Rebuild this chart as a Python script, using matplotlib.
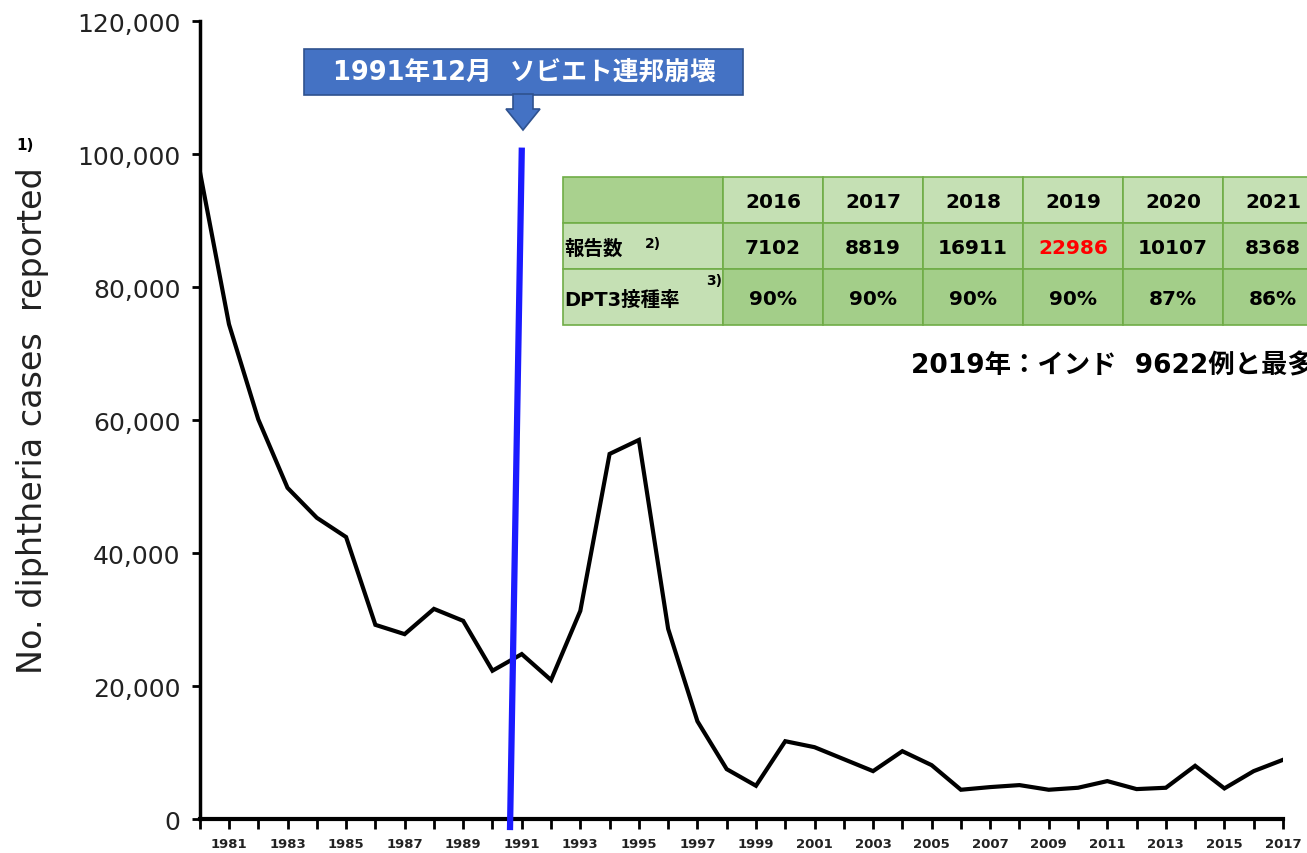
import matplotlib.pyplot as plt
from matplotlib.patches import Rectangle, Polygon

# reported diphtheria cases
years = list(range(1980, 2018))
cases = [97500, 74400, 60100, 49800, 45300, 42400, 29200, 27800, 31600, 29800,
         22300, 24800, 20900, 31300, 54900, 57000, 28600, 14700, 7500, 5000,
         11700, 10800, 9000, 7200, 10200, 8100, 4400, 4800, 5100, 4400,
         4700, 5700, 4500, 4700, 8000, 4600, 7200, 8900]

# table
tab_years = ['2016', '2017', '2018', '2019', '2020', '2021']
tab_reports = ['7102', '8819', '16911', '22986', '10107', '8368']
tab_dpt3 = ['90%', '90%', '90%', '90%', '87%', '86%']

jp = ['DejaVu Sans', 'Noto Sans CJK JP']

fig = plt.figure(figsize=(13.07, 8.54), dpi=100)
ax = fig.add_axes([0.1528, 0.0398, 0.9816 - 0.1528, 0.9742 - 0.0398])

ax.plot(years, cases, color='black', lw=3, solid_joinstyle='miter', zorder=3)
ax.set_xlim(1980, 2017)
ax.set_ylim(0, 120000)

ax.spines['top'].set_visible(False)
ax.spines['right'].set_visible(False)
ax.spines['left'].set_linewidth(2.5)
ax.spines['bottom'].set_linewidth(3)

ax.set_yticks(range(0, 120001, 20000))
ax.set_yticklabels([f'{v:,}' for v in range(0, 120001, 20000)], fontsize=18, color='#222222')
ax.set_xticks(years)
ax.set_xticklabels([str(y) if y % 2 == 1 else '' for y in years], fontsize=9.5, fontweight='bold',
                   color='#222222')
ax.tick_params(axis='y', length=6, width=2, pad=8)
ax.tick_params(axis='x', length=7, width=2, pad=6)
ax.set_ylabel('No. diphtheria cases  reported', fontsize=24, color='#222222', labelpad=20)

# blue marker for December 1991
ax.plot([1991.0, 1990.6], [100500, -1200], color='#1a1aff', lw=4.5, clip_on=False, zorder=4)

# overlay in figure pixels for the annotations
ov = fig.add_axes([0, 0, 1, 1], facecolor='none')
ov.set_xlim(0, 1307)
ov.set_ylim(854, 0)
ov.axis('off')

ov.text(25, 145, '1)', fontsize=11, fontweight='bold', ha='center', va='center')

ov.add_patch(Rectangle((304, 50), 439, 46, facecolor='#4472C4', edgecolor='#2F528F', lw=1.2))
ov.add_patch(Polygon([(513, 95), (533, 95), (533, 110), (540, 110), (523, 131),
                      (506, 110), (513, 110)], closed=True,
                     facecolor='#4472C4', edgecolor='#2F528F', lw=1.2))
ov.text(524, 73, '1991年12月  ソビエト連邦崩壊', family=jp, fontsize=18.5,
        fontweight='bold', color='white', ha='center', va='center')

# table
x0, first_w, cw = 563, 160, 100
row_y = [178, 224, 270]
row_h = [46, 46, 56]
edge = '#70AD47'
for r in range(3):
    for c in range(len(tab_years) + 1):
        x = x0 if c == 0 else x0 + first_w + (c - 1) * cw
        w = first_w if c == 0 else cw
        if r == 0:
            fc = '#A9D18E' if c == 0 else '#C5E0B4'
        elif c == 0:
            fc = '#C5E0B4'
        else:
            fc = '#B0D59A' if r == 1 else '#A3CE89'
        ov.add_patch(Rectangle((x, row_y[r]), w, row_h[r], facecolor=fc, edgecolor=edge, lw=1.2))

for c, (yr, rep, dpt) in enumerate(zip(tab_years, tab_reports, tab_dpt3)):
    cx = x0 + first_w + c * cw + cw / 2
    ov.text(cx, 202, yr, fontsize=14.5, fontweight='bold', ha='center', va='center')
    ov.text(cx, 249, rep, fontsize=14.5, fontweight='bold', ha='center', va='center',
            color='#FF0000' if yr == '2019' else 'black')
    ov.text(cx, 300, dpt, fontsize=14.5, fontweight='bold', ha='center', va='center')

ov.text(564, 249, '報告数', family=jp, fontsize=14, fontweight='bold', ha='left', va='center')
ov.text(645, 244, '2)', fontsize=10, fontweight='bold', ha='left', va='center')
ov.text(564, 300, 'DPT3接種率', family=jp, fontsize=14, fontweight='bold', ha='left', va='center')
ov.text(706, 281, '3)', fontsize=10, fontweight='bold', ha='left', va='center')

ov.text(911, 366, '2019年：インド  9622例と最多', family=jp, fontsize=19,
        fontweight='bold', ha='left', va='center')

fig.savefig('out.png', dpi=100)
